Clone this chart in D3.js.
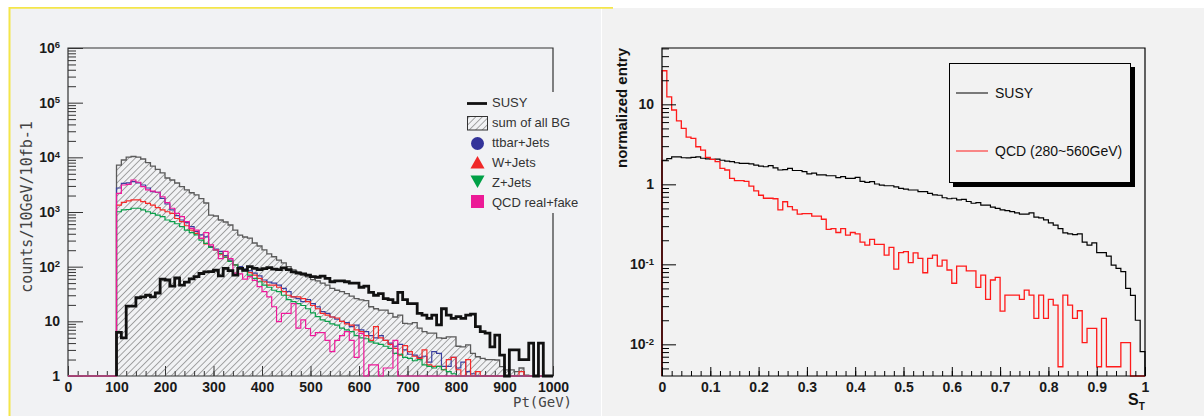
<!DOCTYPE html>
<html>
<head>
<meta charset="utf-8">
<script src="https://cdn.jsdelivr.net/npm/d3@7"></script>
<style>
  body { margin: 0; background: #fff; }
  svg { display: block; }
</style>
</head>
<body>
<div id="chart"></div>
<script>
// ---- left plot: Pt spectra, 10 GeV bins starting at 100 GeV ----
const ptStart = 100;
const ptBin = 10;
const susyPt = [6.3, 5.0, 19, 19, 27, 28, 30, 28, 33, 59,
  57, 44, 62, 46, 52, 60, 66, 75, 80, 81,
  86, 68, 93, 85, 70, 93, 86, 100, 93, 88,
  92, 96, 90, 88, 95, 88, 80, 76, 74, 70,
  66, 64, 67, 61, 53, 55, 55, 53, 50, 50,
  42, 44, 34, 30, 32, 26, 25, 22, 34, 25,
  21, 21, 14, 13, 11.3, 13, 8.6, 17, 13, 11.3,
  12.2, 11.3, 13, 13.6, 8, 6.5, 6.1, 3.4, 5.6, 2.4,
  0, 3.0, 3.0, 2.0, 2.0, 4.0, 0, 4.0, 0, 0];
const sumBG = [7230, 8940, 10130, 10350, 10130, 9320, 8000, 6900, 6000, 5200,
  4190, 3850, 3390, 2900, 2530, 2250, 2050, 1750, 1460, 880,
  845, 714, 656, 578, 468, 379, 349, 334, 271, 239,
  202, 171, 152, 132, 117, 100, 87, 80, 70, 65,
  58, 55, 50, 46, 40, 37, 35, 32, 29, 26,
  24.6, 24, 18.5, 17, 16, 16, 14, 12, 13, 9.2,
  9, 9.5, 7.5, 6.5, 6.1, 6.1, 5, 4.9, 5.2, 5.2,
  3.5, 3.4, 3.7, 2.6, 2.25, 2.1, 2.0, 2.0, 1.96, 1.48,
  1.29, 1.29, 1.2, 1.4, 1.04, 0.9, 0.7, 0.5, 0.3, 0.2];
const ttbarJets = [2750, 3350, 3400, 3600, 3400, 3120, 2750, 2360, 2300, 1770,
  1400, 1090, 860, 714, 640, 540, 440, 380, 350, 232,
  210, 190, 160, 132, 108, 100, 90, 85, 76, 68,
  57, 52, 50, 46, 40, 35, 28, 26, 23, 25,
  21, 18.5, 15, 14, 12, 11, 10, 9.5, 8, 8.5,
  7, 6.5, 5.5, 5, 5.5, 4.5, 4, 3.5, 3.8, 3,
  2.5, 2.4, 2.2, 2.3, 1.8, 2.8, 2.6, 1.5, 1.5, 2.2,
  1.4, 1.8, 1.2, 1.1, 0, 0, 0, 0, 0, 0,
  0, 0, 0, 0, 0, 0, 0, 0, 0, 0];
const wJets = [1340, 1500, 1600, 1660, 1660, 1550, 1440, 1340, 1200, 1090,
  1010, 945, 760, 665, 560, 468, 407, 330, 260, 225,
  202, 170, 150, 125, 108, 94, 87, 78, 70, 61,
  53, 46, 46, 42, 35, 30, 28, 28, 26, 23,
  19.5, 17, 14, 13, 12, 11.5, 10, 9, 8.5, 7,
  6.5, 5.5, 4.5, 8, 5, 4.5, 3.8, 3.2, 2.4, 3.6,
  2.8, 2.3, 2.1, 3.0, 1.6, 1.5, 1.5, 1.3, 2.0, 2.2,
  1.3, 1.0, 2.0, 0.5, 1.2, 0, 0, 0, 0, 0,
  0, 0, 0, 1.2, 0, 0, 0, 0, 0, 0];
const zJets = [1010, 1090, 1110, 1170, 1170, 1090, 1010, 945, 880, 820,
  714, 665, 610, 540, 468, 420, 380, 307, 267, 225,
  202, 175, 150, 125, 108, 94, 85, 70, 61, 53,
  46, 42, 37, 35, 30, 25, 23, 21, 19.5, 17,
  14.3, 12.2, 10.6, 10, 9, 8.5, 7.5, 7, 6.5, 5.5,
  5, 4.8, 4.2, 4, 3.8, 3.5, 3.2, 2.6, 2.5, 2.2,
  2.1, 1.9, 2.0, 1.6, 1.5, 1.4, 1.5, 1.3, 1.2, 1.1,
  0, 0, 0, 0, 0, 0, 0, 0, 0, 0,
  0, 0, 0, 0, 0, 0, 0, 0, 0, 0];
const qcdRealFake = [2200, 3120, 3200, 3850, 3500, 2900, 2530, 2400, 2300, 1900,
  1480, 1170, 945, 820, 665, 500, 468, 330, 420, 250,
  202, 140, 190, 140, 76, 74, 59, 66, 56, 43,
  35, 28, 18.5, 9.9, 14, 14, 21, 7.5, 10.6, 7.4,
  5.5, 6.2, 6.2, 4.5, 2.8, 4.5, 5.5, 6.5, 4.5, 2.2,
  6, 0, 1.6, 1.6, 0, 1.4, 1.4, 4.5, 0, 0,
  0, 0, 0, 0, 0, 0, 0, 0, 0, 0,
  0, 0, 0, 0, 0, 0, 0, 0, 0, 0,
  0, 0, 0, 0, 0, 0, 0, 0, 0, 0];
const ptTicks = [0, 100, 200, 300, 400, 500, 600, 700, 800, 900, 1000];
const countTicks = [1, 10, 100, 1e3, 1e4, 1e5, 1e6];
const leftLegend = ["SUSY", "sum of all BG", "ttbar+Jets", "W+Jets", "Z+Jets", "QCD real+fake"];

// ---- right plot: S_T, 0.01 bins from 0 to 1 ----
const stBin = 0.01;
const susyST = [2.0, 2.1, 2.2, 2.21, 2.15, 2.14, 2.17, 2.2, 2.12, 2.08,
  2.05, 2.07, 2.0, 1.95, 1.92, 1.86, 1.83, 1.83, 1.8, 1.74,
  1.69, 1.66, 1.71, 1.61, 1.51, 1.53, 1.58, 1.49, 1.49, 1.44,
  1.35, 1.38, 1.31, 1.31, 1.28, 1.28, 1.21, 1.25, 1.19, 1.19,
  1.22, 1.09, 1.06, 1.08, 1.01, 0.98, 0.96, 0.96, 0.93, 0.89,
  0.87, 0.85, 0.85, 0.81, 0.81, 0.77, 0.74, 0.73, 0.68, 0.66,
  0.67, 0.64, 0.65, 0.61, 0.58, 0.59, 0.55, 0.55, 0.52, 0.50,
  0.48, 0.47, 0.455, 0.44, 0.425, 0.425, 0.44, 0.39, 0.38, 0.36,
  0.33, 0.31, 0.28, 0.248, 0.24, 0.235, 0.24, 0.19, 0.174, 0.185,
  0.14, 0.14, 0.127, 0.098, 0.089, 0.081, 0.05, 0.041, 0.020, 0.0081];
const qcdST = [26.3, 12.4, 8.5, 6.2, 5.0, 3.9, 3.76, 2.95, 2.68, 2.17,
  2.05, 1.92, 1.58, 1.51, 1.19, 1.11, 1.11, 1.09, 0.95, 0.83,
  0.73, 0.67, 0.67, 0.66, 0.48, 0.606, 0.525, 0.48, 0.425, 0.43,
  0.43, 0.40, 0.40, 0.366, 0.274, 0.28, 0.25, 0.28, 0.232, 0.25,
  0.24, 0.19, 0.174, 0.205, 0.178, 0.178, 0.13, 0.163, 0.087, 0.14,
  0.144, 0.105, 0.139, 0.119, 0.0785, 0.119, 0.13, 0.095, 0.113, 0.085,
  0.058, 0.095, 0.095, 0.083, 0.083, 0.0516, 0.0735, 0.0365, 0.0637, 0.0688,
  0.026, 0.0413, 0.0413, 0.0413, 0.0365, 0.0477, 0.0413, 0.0211, 0.0413, 0.0211,
  0.0365, 0.031, 0.00525, 0.0413, 0.031, 0.0211, 0.0263, 0.0105, 0.0158, 0.0158,
  0.00525, 0.0211, 0.00525, 0.00525, 0.00525, 0.0105, 0.0105, 0, 0, 0];
const stTicks = [0, 0.1, 0.2, 0.3, 0.4, 0.5, 0.6, 0.7, 0.8, 0.9, 1];
const entryTicks = [0.01, 0.1, 1, 10];
const rightLegend = ["SUSY", "QCD (280~560GeV)"];

const width = 1204;
const height = 416;
const boldFont = "'Liberation Sans', Arial, sans-serif";

const svg = d3.select("#chart")
    .append("svg")
    .attr("width", width)
    .attr("height", height);

// pads
svg.append("rect").attr("x", 9).attr("y", 8).attr("width", 592).attr("height", 408).attr("fill", "#f1f2f4");
svg.append("rect").attr("x", 602).attr("y", 8).attr("width", 602).attr("height", 408).attr("fill", "#f2f2f2");
svg.append("line").attr("x1", 9).attr("x2", 613).attr("y1", 7.8).attr("y2", 7.8)
    .attr("stroke", "#f4e64a").attr("stroke-width", 1.8);
svg.append("line").attr("x1", 9.5).attr("x2", 9.5).attr("y1", 7).attr("y2", 416)
    .attr("stroke", "#f4e64a").attr("stroke-width", 2);

// hatch pattern for sum of all BG
svg.append("defs").append("pattern")
    .attr("id", "hatch")
    .attr("patternUnits", "userSpaceOnUse")
    .attr("width", 4.6).attr("height", 4.6)
    .attr("patternTransform", "rotate(45)")
    .append("line")
    .attr("x1", 0).attr("y1", 0).attr("x2", 0).attr("y2", 4.6)
    .attr("stroke", "#555").attr("stroke-width", 1);

// step outline of a histogram, zero / underflow bins sit on the axis
function stepPoints(xs, ys, start, w, vals, from) {
    const yb = ys.range()[0];
    const yt = ys.range()[1];
    const yv = v => (v > 0 ? Math.max(yt, Math.min(yb, ys(v))) : yb);
    const pts = [];
    if (from !== undefined) pts.push([xs(from), yb]);
    pts.push([xs(start), yb]);
    vals.forEach((v, i) => {
        pts.push([xs(start + i * w), yv(v)], [xs(start + (i + 1) * w), yv(v)]);
    });
    pts.push([xs(start + vals.length * w), yb]);
    return pts;
}
const line = d3.line();

function powLabels(sel) {
    sel.each(function(d) {
        const e = Math.round(Math.log10(d));
        const t = d3.select(this).text(null);
        if (e === 0) t.text("1");
        else if (e === 1) t.text("10");
        else {
            t.append("tspan").text("10");
            t.append("tspan").attr("dy", "-0.5em").attr("font-size", "9.5px").text(e);
        }
    });
}

function styleAxis(g, color) {
    g.select(".domain").remove();
    g.selectAll(".tick line").attr("stroke", color);
    g.selectAll(".tick text")
        .attr("fill", "#1a1a1a")
        .attr("font-family", boldFont)
        .attr("font-weight", "bold")
        .attr("font-size", "14px");
}

function minorLog(lo, hi) {
    const out = [];
    for (let e = Math.floor(Math.log10(lo)); e <= Math.ceil(Math.log10(hi)); e++) {
        for (let k = 2; k <= 9; k++) {
            const v = k * Math.pow(10, e);
            if (v >= lo && v <= hi) out.push(v);
        }
    }
    return out;
}

// ================= LEFT PLOT =================
const x1 = d3.scaleLinear().domain([0, 1000]).range([68, 553]);
const y1 = d3.scaleLog().domain([1, 1e6]).range([376, 48]);
const leftColor = "#333";

// frame and axes first, histograms drawn over them (as in ROOT)
svg.append("path")
    .attr("d", `M${x1(0)},${y1(1)}V${y1(1e6)}H${x1(1000)}V${y1(1)}Z`)
    .attr("fill", "none").attr("stroke", leftColor).attr("stroke-width", 1.2);
svg.append("g").attr("transform", `translate(0,${y1(1)})`)
    .call(d3.axisBottom(x1).tickValues(ptTicks).tickSizeInner(-10).tickSizeOuter(0).tickPadding(6)
        .tickFormat(d3.format("d")))
    .call(g => styleAxis(g, leftColor));
svg.append("g").attr("transform", `translate(0,${y1(1)})`)
    .call(d3.axisBottom(x1).tickValues(d3.range(0, 1001, 20)).tickSizeInner(-5).tickSizeOuter(0).tickFormat(""))
    .call(g => styleAxis(g, leftColor));
svg.append("g").attr("transform", `translate(${x1(0)},0)`)
    .call(d3.axisLeft(y1).tickValues(countTicks).tickSizeInner(-15).tickSizeOuter(0).tickPadding(8))
    .call(g => styleAxis(g, leftColor))
    .call(g => g.selectAll(".tick text").call(powLabels));
svg.append("g").attr("transform", `translate(${x1(0)},0)`)
    .call(d3.axisLeft(y1).tickValues(minorLog(1, 1e6)).tickSizeInner(-8).tickSizeOuter(0).tickFormat(""))
    .call(g => styleAxis(g, leftColor));

const sumPts = stepPoints(x1, y1, ptStart, ptBin, sumBG);
svg.append("path").attr("d", line(sumPts) + "Z").attr("fill", "url(#hatch)").attr("stroke", "none");
svg.append("path").attr("d", line(sumPts)).attr("fill", "none")
    .attr("stroke", "#5a5a5a").attr("stroke-width", 1.3);

const bgSeries = [
    { vals: ttbarJets, color: "#3a3f9e" },
    { vals: wJets, color: "#f52a2a" },
    { vals: zJets, color: "#0aa04a" },
    { vals: qcdRealFake, color: "#f0189a" }
];
bgSeries.forEach(s => {
    svg.append("path")
        .attr("d", line(stepPoints(x1, y1, ptStart, ptBin, s.vals, 0)))
        .attr("fill", "none").attr("stroke", s.color).attr("stroke-width", 1.2);
});
svg.append("path")
    .attr("d", line(stepPoints(x1, y1, ptStart, ptBin, susyPt)))
    .attr("fill", "none").attr("stroke", "#111").attr("stroke-width", 2.8)
    .attr("stroke-linejoin", "miter");

// titles
svg.append("text")
    .attr("transform", "translate(32,207) rotate(-90)")
    .attr("text-anchor", "middle")
    .attr("font-family", "'DejaVu Sans Mono', monospace")
    .attr("font-size", "15px").attr("fill", "#444")
    .text("counts/10GeV/10fb-1");
svg.append("text")
    .attr("x", 572).attr("y", 407)
    .attr("text-anchor", "end")
    .attr("font-family", "'DejaVu Sans Mono', monospace")
    .attr("font-size", "14px").attr("fill", "#444")
    .text("Pt(GeV)");

// legend (no border, covers the frame)
svg.append("rect").attr("x", 462).attr("y", 92).attr("width", 128).attr("height", 121).attr("fill", "#f1f2f4");
const lg = svg.append("g");
lg.append("line").attr("x1", 467).attr("x2", 487).attr("y1", 103.5).attr("y2", 103.5)
    .attr("stroke", "#111").attr("stroke-width", 2.8);
lg.append("rect").attr("x", 467.5).attr("y", 116.5).attr("width", 20).attr("height", 13.5)
    .attr("fill", "url(#hatch)").attr("stroke", "#333").attr("stroke-width", 1);
lg.append("circle").attr("cx", 477.5).attr("cy", 143.5).attr("r", 6.5).attr("fill", "#333399");
lg.append("path").attr("d", "M470.5,168.5L484.5,168.5L477.5,156Z").attr("fill", "#f02828");
lg.append("path").attr("d", "M470.5,175.5L484.5,175.5L477.5,188Z").attr("fill", "#00a046");
lg.append("rect").attr("x", 471).attr("y", 195).attr("width", 13).attr("height", 13).attr("fill", "#ec1a96");
lg.selectAll("text.lbl").data(leftLegend).enter().append("text")
    .attr("x", 492).attr("y", (d, i) => 106.5 + i * 20)
    .attr("font-family", boldFont).attr("font-size", "13px").attr("fill", "#333")
    .text(d => d);

// ================= RIGHT PLOT =================
const x2 = d3.scaleLinear().domain([0, 1]).range([662, 1145]);
const y2 = d3.scaleLog().domain([0.00402, 50.6]).range([376, 48]);

svg.append("path")
    .attr("d", line(stepPoints(x2, y2, 0, stBin, susyST)))
    .attr("fill", "none").attr("stroke", "#000").attr("stroke-width", 1.2);
svg.append("path")
    .attr("d", line(stepPoints(x2, y2, 0, stBin, qcdST)))
    .attr("fill", "none").attr("stroke", "#ff1a1a").attr("stroke-width", 1.3);

svg.append("path")
    .attr("d", `M${x2(0)},376V48H${x2(1)}V376Z`)
    .attr("fill", "none").attr("stroke", "#000").attr("stroke-width", 1.2);

svg.append("g").attr("transform", "translate(0,376)")
    .call(d3.axisBottom(x2).tickValues(stTicks).tickSizeInner(-9).tickSizeOuter(0).tickPadding(6)
        .tickFormat(d => d === 0 || d === 1 ? d : d3.format(".1f")(d)))
    .call(g => styleAxis(g, "#000"));
svg.append("g").attr("transform", "translate(0,376)")
    .call(d3.axisBottom(x2).tickValues(d3.range(0, 51).map(i => i * 0.02)).tickSizeInner(-5).tickSizeOuter(0).tickFormat(""))
    .call(g => styleAxis(g, "#000"));
svg.append("g").attr("transform", `translate(${x2(0)},0)`)
    .call(d3.axisLeft(y2).tickValues(entryTicks).tickSizeInner(-14).tickSizeOuter(0).tickPadding(8))
    .call(g => styleAxis(g, "#000"))
    .call(g => g.selectAll(".tick text").call(powLabels));
svg.append("g").attr("transform", `translate(${x2(0)},0)`)
    .call(d3.axisLeft(y2).tickValues(minorLog(0.00402, 50.6)).tickSizeInner(-7).tickSizeOuter(0).tickFormat(""))
    .call(g => styleAxis(g, "#000"));

svg.append("text")
    .attr("transform", "translate(627,48) rotate(-90)")
    .attr("text-anchor", "end")
    .attr("font-family", boldFont).attr("font-weight", "bold")
    .attr("font-size", "15px").attr("fill", "#111")
    .text("normalized entry");
const st = svg.append("text").attr("x", 1128).attr("y", 405)
    .attr("font-family", boldFont).attr("font-weight", "bold").attr("fill", "#111");
st.append("tspan").attr("font-size", "16px").text("S");
st.append("tspan").attr("font-size", "10px").attr("dy", 5).text("T");

// legend box with shadow
svg.append("rect").attr("x", 953).attr("y", 67).attr("width", 182).attr("height", 120).attr("fill", "#000");
svg.append("rect").attr("x", 949.5).attr("y", 63.5).attr("width", 181).attr("height", 119)
    .attr("fill", "#f2f2f2").attr("stroke", "#000").attr("stroke-width", 1);
const rlColors = ["#000", "#ff1a1a"];
rightLegend.forEach((name, i) => {
    const yy = 93 + i * 58;
    svg.append("line").attr("x1", 956).attr("x2", 988).attr("y1", yy).attr("y2", yy)
        .attr("stroke", rlColors[i]).attr("stroke-width", 1);
    svg.append("text").attr("x", 995).attr("y", yy + 5)
        .attr("font-family", boldFont).attr("font-size", "14px").attr("fill", "#111")
        .text(name);
});
</script>
</body>
</html>
